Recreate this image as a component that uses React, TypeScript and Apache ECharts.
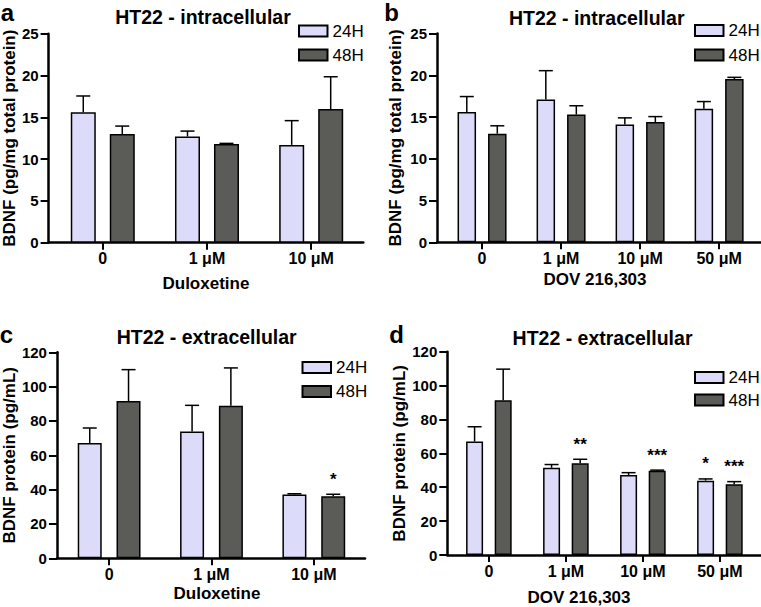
import React, { useEffect, useRef } from 'react';
import * as echarts from 'echarts';

const FONT = 'Arial, "Liberation Sans", Helvetica, sans-serif';

// ---------- data ----------
const seriesNames = ['24H', '48H'];
const titles = ['HT22 - intracellular', 'HT22 - intracellular', 'HT22 - extracellular', 'HT22 - extracellular'];
const letters = ['a', 'b', 'c', 'd'];
const yNames = ['BDNF (pg/mg total protein)', 'BDNF (pg/mg total protein)', 'BDNF protein (pg/mL)', 'BDNF protein (pg/mL)'];
const xNames = ['Duloxetine', 'DOV 216,303', 'Duloxetine', 'DOV 216,303'];

// panel a
const catsA = ['0', '1 μM', '10 μM'];
const a24 = [15.6, 12.7, 11.7];
const a24Err = [1.95, 0.65, 2.9];
const a48 = [13.0, 11.8, 16.0];
const a48Err = [0.95, 0.08, 3.85];
const a24Sig = ['', '', ''];
const a48Sig = ['', '', ''];

// panel b
const catsB = ['0', '1 μM', '10 μM', '50 μM'];
const b24 = [15.6, 17.1, 14.1, 16.0];
const b24Err = [1.85, 3.45, 0.8, 0.85];
const b48 = [13.0, 15.3, 14.4, 19.55];
const b48Err = [0.95, 1.05, 0.65, 0.2];
const b24Sig = ['', '', '', ''];
const b48Sig = ['', '', '', ''];

// panel c
const catsC = ['0', '1 μM', '10 μM'];
const c24 = [67.2, 73.8, 37.1];
const c24Err = [8.7, 15.3, 0.5];
const c48 = [91.6, 88.9, 36.1];
const c48Err = [18.3, 22.0, 1.2];
const c24Sig = ['', '', ''];
const c48Sig = ['', '', '*'];

// panel d
const catsD = ['0', '1 μM', '10 μM', '50 μM'];
const d24 = [67.0, 51.5, 47.2, 43.9];
const d24Err = [8.7, 1.9, 1.4, 1.0];
const d48 = [91.3, 54.2, 49.7, 41.8];
const d48Err = [18.4, 2.3, 0.4, 1.5];
const d24Sig = ['', '', '', '*'];
const d48Sig = ['', '**', '***', '***'];

const yMaxes = [25, 25, 120, 120];
const yIntervals = [5, 5, 20, 20];

// ---------- layout / style ----------
const COL24 = '#dcdcfa';
const COL48 = '#5b5c57';
const CAP = 14;

const layout = [
  { left: 46.5, top: 33.7, width: 316.8, height: 209, xMin: -0.52, xMax: 2.5, barW: 25, gap: 14, yNameGap: 27, xNameGap: 32, xNamePad: [0, 0, 0, 0], lgLeft: 298, lgTop: 22.5, lgGap: 7, title: [203, 17], letter: [7.5, 0, 'top'] },
  { left: 437, top: 33.5, width: 324, height: 208.8, xMin: -0.57, xMax: 3.53, barW: 18.5, gap: 12, yNameGap: 33.5, xNameGap: 29, xNamePad: [0, 8, 0, 0], lgLeft: 694, lgTop: 22, lgGap: 7.5, title: [596.7, 17.5], letter: [391.5, 0, 'top'] },
  { left: 55, top: 352.3, width: 310, height: 206, xMin: -0.51, xMax: 2.5, barW: 24, gap: 14.8, yNameGap: 36, xNameGap: 27, xNamePad: [0, 0, 0, 12], lgLeft: 301.5, lgTop: 359, lgGap: 7, title: [206.7, 336.7], letter: [6.5, 334, 'middle'] },
  { left: 447.3, top: 351.7, width: 313.4, height: 206, xMin: -0.54, xMax: 3.53, barW: 17, gap: 11.6, yNameGap: 36.3, xNameGap: 34, xNamePad: [0, 50, 0, 0], lgLeft: 694, lgTop: 369, lgGap: 5.5, title: [602.5, 338.3], letter: [396.5, 334, 'middle'] },
];

const panelData = [
  { cats: catsA, v: [a24, a48], e: [a24Err, a48Err], s: [a24Sig, a48Sig] },
  { cats: catsB, v: [b24, b48], e: [b24Err, b48Err], s: [b24Sig, b48Sig] },
  { cats: catsC, v: [c24, c48], e: [c24Err, c48Err], s: [c24Sig, c48Sig] },
  { cats: catsD, v: [d24, d48], e: [d24Err, d48Err], s: [d24Sig, d48Sig] },
];

function buildOption() {
  const grid: any[] = [];
  const xAxis: any[] = [];
  const yAxis: any[] = [];
  const series: any[] = [];
  const legend: any[] = [];
  const graphic: any[] = [];

  panelData.forEach((pd, idx) => {
    const L: any = layout[idx];
    grid.push({ left: L.left, top: L.top, width: L.width, height: L.height, containLabel: false });
    const idxs = pd.cats.map((_, i) => i);
    xAxis.push({
      type: 'value', gridIndex: idx, min: L.xMin, max: L.xMax,
      splitLine: { show: false },
      axisLine: { onZero: false, lineStyle: { color: '#000', width: 2.5 } },
      axisTick: { show: true, customValues: idxs, length: 7, lineStyle: { color: '#000', width: 2 } },
      axisLabel: {
        customValues: idxs, margin: 8, color: '#000', fontSize: 16, fontWeight: 'bold', fontFamily: FONT,
        formatter: (v: number) => pd.cats[Math.round(v)] ?? '',
      },
      name: xNames[idx], nameLocation: 'middle', nameGap: L.xNameGap,
      nameTextStyle: { color: '#000', fontSize: 17, fontWeight: 'bold', fontFamily: FONT, padding: L.xNamePad },
    });
    yAxis.push({
      type: 'value', gridIndex: idx, min: 0, max: yMaxes[idx], interval: yIntervals[idx],
      splitLine: { show: false },
      axisLine: { show: true, onZero: false, lineStyle: { color: '#000', width: 2.5 } },
      axisTick: { show: true, length: 8, lineStyle: { color: '#000', width: 2 } },
      axisLabel: { margin: 10, color: '#000', fontSize: 15, fontWeight: 'bold', fontFamily: FONT },
      name: yNames[idx], nameLocation: 'middle', nameGap: L.yNameGap,
      nameTextStyle: { color: '#000', fontSize: 17, fontWeight: 'bold', fontFamily: FONT },
    });

    [0, 1].forEach((k) => {
      const vals = pd.v[k];
      const errs = pd.e[k];
      const sigs = pd.s[k];
      series.push({
        type: 'bar', name: seriesNames[k], xAxisIndex: idx, yAxisIndex: idx,
        data: vals.map((v, i) => [i, v]),
        barWidth: L.barW, barGap: (L.gap / L.barW) * 100 + '%',
        itemStyle: { color: k === 0 ? COL24 : COL48, borderColor: '#000', borderWidth: 1.5 },
        silent: true,
      });
      const sign = k === 0 ? -1 : 1;
      series.push({
        type: 'custom', xAxisIndex: idx, yAxisIndex: idx, z: 5, silent: true, clip: false,
        data: vals.map((v, i) => [i, v, v + errs[i]]),
        encode: { x: 0, y: [1, 2] },
        renderItem: (params: any, api: any) => {
          const i = api.value(0);
          const top = api.coord([i, api.value(1)]);
          const end = api.coord([i, api.value(2)]);
          const x = top[0] + sign * (L.barW + L.gap) / 2;
          const ls = { stroke: '#000', lineWidth: 1.5 };
          const children: any[] = [
            { type: 'line', shape: { x1: x, y1: top[1], x2: x, y2: end[1] }, style: ls },
            { type: 'line', shape: { x1: x - CAP / 2, y1: end[1], x2: x + CAP / 2, y2: end[1] }, style: ls },
          ];
          const s = sigs[params.dataIndex];
          if (s) {
            children.push({
              type: 'text', x, y: end[1] - 15,
              style: { text: s, align: 'center', verticalAlign: 'middle', fill: '#000', fontSize: 17, fontWeight: 'bold', fontFamily: FONT },
            });
          }
          return { type: 'group', children };
        },
      });
    });

    legend.push({
      orient: 'vertical', left: L.lgLeft, top: L.lgTop, itemGap: L.lgGap, padding: 0,
      itemWidth: 28.5, itemHeight: 11, icon: 'rect', selectedMode: false,
      data: seriesNames,
      textStyle: { color: '#000', fontSize: 17, fontFamily: FONT },
    });

    graphic.push({
      type: 'text', x: L.title[0], y: L.title[1],
      style: { text: titles[idx], align: 'center', verticalAlign: 'middle', fill: '#000', fontSize: 19.5, fontWeight: 'bold', fontFamily: FONT },
    });
    graphic.push({
      type: 'text', x: L.letter[0], y: L.letter[1],
      style: { text: letters[idx], align: 'center', verticalAlign: L.letter[2], fill: '#000', fontSize: 24, fontWeight: 'bold', fontFamily: FONT },
    });
  });

  return {
    animation: false,
    backgroundColor: '#ffffff',
    textStyle: { fontFamily: FONT },
    grid, xAxis, yAxis, series, legend, graphic,
  };
}

export default function App() {
  const ref = useRef<HTMLDivElement>(null);
  useEffect(() => {
    if (!ref.current) return;
    const chart = echarts.init(ref.current, undefined, { renderer: 'svg' });
    chart.setOption(buildOption() as any);
    return () => chart.dispose();
  }, []);
  return <div ref={ref} style={{ position: 'absolute', left: 0, top: 0, width: 761, height: 607 }} />;
}
